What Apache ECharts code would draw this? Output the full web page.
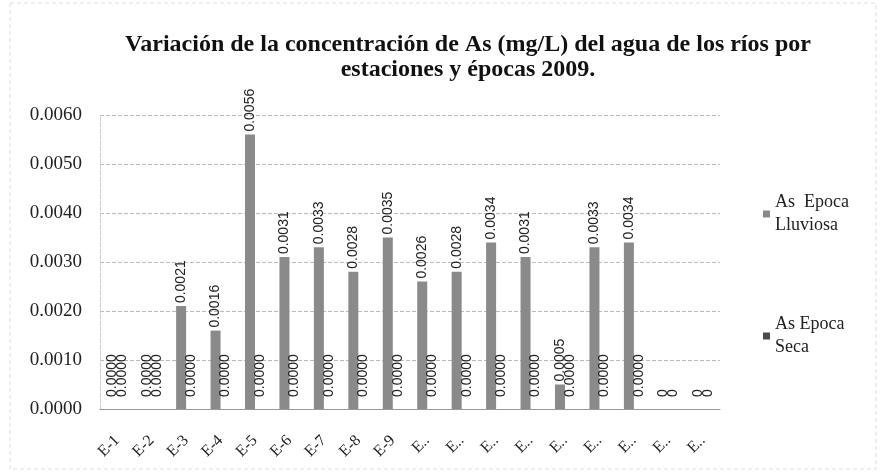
<!DOCTYPE html>
<html lang="es">
<head>
    <meta charset="UTF-8">
    <title>Variación de la concentración de As</title>
    <script src="https://cdn.jsdelivr.net/npm/echarts@6/dist/echarts.min.js"></script>
    <style>
        body { margin: 0; background: #fff; }
        #chart { width: 880px; height: 472px; }
    </style>
</head>
<body>
    <div id="chart"></div>
    <script>
        // estaciones
        const estaciones = ['E-1', 'E-2', 'E-3', 'E-4', 'E-5', 'E-6', 'E-7', 'E-8', 'E-9',
            'E-10', 'E-11', 'E-12', 'E-13', 'E-14', 'E-15', 'E-16', 'E-17', 'E-18'];
        // As Epoca Lluviosa (mg/L)
        const lluviosa = [0, 0, 0.0021, 0.0016, 0.0056, 0.0031, 0.0033, 0.0028, 0.0035,
            0.0026, 0.0028, 0.0034, 0.0031, 0.0005, 0.0033, 0.0034, 0, 0];
        // As Epoca Seca (mg/L)
        const seca = [0, 0, 0, 0, 0, 0, 0, 0, 0, 0, 0, 0, 0, 0, 0, 0, 0, 0];
        // estaciones cuyo rótulo aparece sólo como "0"
        const rotuloCero = ['E-17', 'E-18'];
        const yTicks = [0, 0.001, 0.002, 0.003, 0.004, 0.005, 0.006];

        const serif = '"Liberation Serif", "DejaVu Serif", serif';
        const sans = '"Liberation Sans", sans-serif';

        const etiqueta = {
            show: true,
            position: 'top',
            rotate: 90,
            align: 'left',
            verticalAlign: 'middle',
            distance: 3,
            fontFamily: sans,
            fontSize: 14,
            color: '#222',
            formatter: p => rotuloCero.includes(p.name) ? '0' : p.value.toFixed(4)
        };

        // en Excel los rótulos de valores nulos quedan algo más arriba
        const conRotulo = arr => arr.map(v => v === 0 ? { value: v, label: { distance: 12 } } : v);

        const chart = echarts.init(document.getElementById('chart'));
        chart.setOption({
            animation: false,
            graphic: [{
                type: 'rect',
                shape: { x: 10, y: 3, width: 866, height: 466 },
                style: { fill: 'none', stroke: '#ddd', lineWidth: 1, lineDash: [4, 3] },
                silent: true
            }],
            title: {
                text: 'Variación de la concentración de As (mg/L) del agua de los ríos por\nestaciones y épocas 2009.',
                left: 463,
                top: 27,
                textAlign: 'center',
                textStyle: {
                    fontFamily: serif,
                    fontWeight: 'bold',
                    fontSize: 24,
                    lineHeight: 25,
                    color: '#111'
                }
            },
            legend: {
                orient: 'vertical',
                left: 758,
                top: 186,
                itemWidth: 7,
                itemHeight: 7,
                itemGap: 76,
                icon: 'rect',
                textStyle: {
                    fontFamily: serif,
                    fontSize: 18,
                    lineHeight: 23,
                    color: '#222'
                },
                formatter: n => n === 'As Epoca Lluviosa' ? 'As  Epoca\nLluviosa' : 'As Epoca\nSeca',
                data: ['As Epoca Lluviosa', 'As Epoca Seca']
            },
            grid: { left: 100, right: 160, top: 115, bottom: 63 },
            xAxis: {
                type: 'category',
                data: estaciones,
                axisLine: { lineStyle: { color: '#999' } },
                axisTick: { show: false },
                axisLabel: {
                    rotate: 45,
                    interval: 0,
                    margin: 29,
                    fontFamily: serif,
                    fontSize: 16,
                    color: '#222',
                    formatter: v => v.length > 3 ? 'E..' : v
                }
            },
            yAxis: {
                type: 'value',
                min: 0,
                max: yTicks[yTicks.length - 1],
                interval: 0.001,
                axisLine: { show: true, lineStyle: { color: '#ccc', type: 'dashed' } },
                axisTick: { show: false },
                splitLine: { lineStyle: { color: '#bbb', type: 'dashed' } },
                axisLabel: {
                    margin: 18,
                    fontFamily: serif,
                    fontSize: 19,
                    color: '#222',
                    formatter: v => v.toFixed(4)
                }
            },
            series: [
                {
                    name: 'As Epoca Lluviosa',
                    type: 'bar',
                    data: conRotulo(lluviosa),
                    barWidth: 10,
                    barGap: '0%',
                    itemStyle: { color: '#8a8a8a' },
                    label: etiqueta
                },
                {
                    name: 'As Epoca Seca',
                    type: 'bar',
                    data: conRotulo(seca),
                    barWidth: 10,
                    itemStyle: { color: '#4a4a4a' },
                    label: etiqueta
                }
            ]
        });
    </script>
</body>
</html>
